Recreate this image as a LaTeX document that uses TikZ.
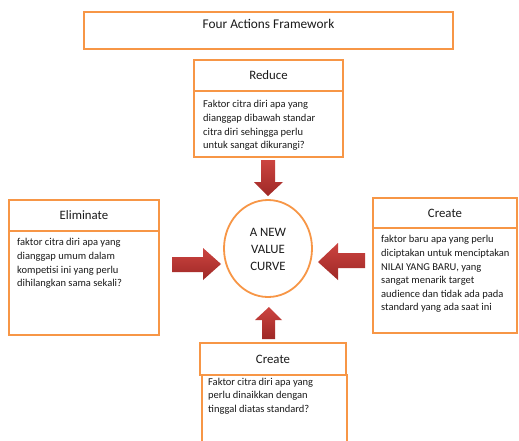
\documentclass[tikz,border=0pt]{standalone}
\usepackage{fontspec}
\setmainfont{Carlito}
\usetikzlibrary{shapes.geometric}
\definecolor{orng}{HTML}{F79646}
\definecolor{redtop}{HTML}{CC4440}
\definecolor{redbot}{HTML}{9E2826}
\definecolor{txt}{HTML}{1A1A1A}
\begin{document}
\begin{tikzpicture}[x=1pt,y=-1pt,
  box/.style={draw=orng,line width=2.2pt,fill=white,rectangle,inner sep=0pt,text=txt,font=\fontsize{12.8}{15}\selectfont},
  bodytext/.style={anchor=north west,inner sep=0pt,align=left,text=txt,font=\fontsize{10.5}{13.6}\selectfont},
  redarrow/.style={top color=redtop,bottom color=redbot,draw=none}]
\useasboundingbox (0,0) rectangle (519,440);
\fill[white] (0,0) rectangle (519,440);
% top
\node[box,minimum width=369pt,minimum height=37pt] (top) at (268.5,30.5) {};
\node[text=txt,font=\fontsize{13.3}{15}\selectfont,inner sep=0pt] (toptext) at (268.5,24) {Four Actions Framework};
% reduce
\node[box,minimum width=149pt,minimum height=66pt] (redbody) at (268.5,124) {};
\node[box,minimum width=149pt,minimum height=31pt] (redtitle) at (268.5,75.5) {Reduce};
\node[bodytext] (redtext) at (203,100.5) {Faktor citra diri apa yang\\dianggap dibawah standar\\citra diri sehingga perlu\\untuk sangat dikurangi?};
% eliminate
\node[box,minimum width=150pt,minimum height=104pt] (elbody) at (84,283) {};
\node[box,minimum width=150pt,minimum height=31pt] (eltitle) at (84,215.5) {Eliminate};
\node[bodytext] (eltext) at (17,238.5) {faktor citra diri apa yang\\dianggap umum dalam\\kompetisi ini yang perlu\\dihilangkan sama sekali?};
% create right
\node[box,minimum width=144pt,minimum height=105pt] (crbody) at (445,280.5) {};
\node[box,minimum width=144pt,minimum height=30pt] (crtitle) at (445,213) {Create};
\node[bodytext] (crtext) at (381,235.5) {faktor baru apa yang perlu\\diciptakan untuk menciptakan\\NILAI YANG BARU, yang\\sangat menarik target\\audience dan tidak ada pada\\standard yang ada saat ini};
% create bottom
\node[box,minimum width=145pt,minimum height=80pt] (cbbody) at (274.5,415) {};
\node[box,minimum width=146pt,minimum height=32pt] (cbtitle) at (273,359) {Create};
\node[bodytext] (cbtext) at (208,377.5) {Faktor citra diri apa yang\\perlu dinaikkan dengan\\tinggal diatas standard?};
% circle
\node[ellipse,draw=orng,line width=1.8pt,minimum width=88pt,minimum height=97pt,inner sep=0pt] (curve) at (268,248.5) {};
\node[align=center,text=txt,font=\fontsize{12.8}{17}\selectfont,inner sep=0pt] (curvetext) at (268,249) {A NEW\\VALUE\\CURVE};
% arrows
\path[redarrow] (261,160) -- (275,160) -- (275,182) -- (283,182) -- (268,196) -- (254,182) -- (261,182) -- cycle;
\path[redarrow] (172,257) -- (203,257) -- (203,248) -- (221,264) -- (203,280) -- (203,272) -- (172,272) -- cycle;
\path[redarrow] (365,253) -- (338,253) -- (338,243) -- (318,262) -- (338,280) -- (338,268) -- (365,268) -- cycle;
\path[redarrow] (262,339) -- (262,320) -- (255,320) -- (269,307) -- (282,320) -- (275,320) -- (275,339) -- cycle;
\end{tikzpicture}
\end{document}
